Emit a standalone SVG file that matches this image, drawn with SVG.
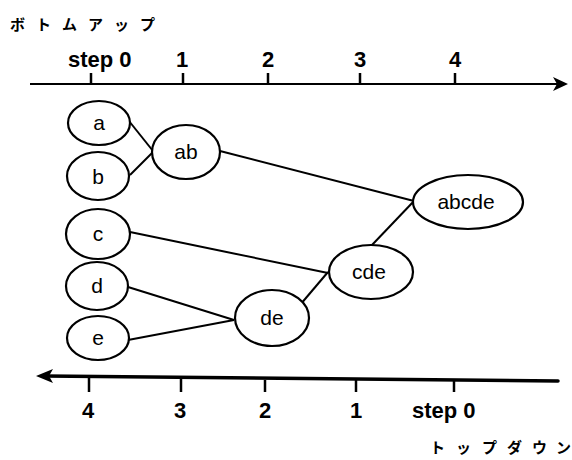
<svg xmlns="http://www.w3.org/2000/svg" width="572" height="460" viewBox="0 0 572 460">
<style>
.node ellipse{fill:#fff;stroke:#000;stroke-width:2.2}
.node text{font-family:"Liberation Sans",Arial,sans-serif;font-size:21px;text-anchor:middle;fill:#000}
.lbl{font-family:"Liberation Sans",Arial,sans-serif;font-size:22px;font-weight:bold;fill:#000}
.jp{font-family:"Noto Sans CJK JP",sans-serif;font-size:15px;font-weight:bold;fill:#000}
#connectors line{stroke:#000;stroke-width:2}
.tick{stroke:#000;stroke-width:2.5}
</style>
<rect width="572" height="460" fill="#fff"/>
<text class="jp" x="10 36 62 88 114 140" y="30">ボトムアップ</text>
<g id="axis-top">
<line x1="30" y1="84" x2="560" y2="84" stroke="#000" stroke-width="2"/>
<path d="M568,84 L553,77 L557,84 L553,91 Z" fill="#000"/>
<line class="tick" x1="91" y1="73" x2="91" y2="84"/>
<line class="tick" x1="183" y1="73" x2="183" y2="84"/>
<line class="tick" x1="268" y1="73" x2="268" y2="84"/>
<line class="tick" x1="360" y1="73" x2="360" y2="84"/>
<line class="tick" x1="455" y1="73" x2="455" y2="84"/>
<text class="lbl" x="68" y="67">step 0</text>
<text class="lbl" x="182" y="67" text-anchor="middle">1</text>
<text class="lbl" x="268" y="67" text-anchor="middle">2</text>
<text class="lbl" x="360" y="67" text-anchor="middle">3</text>
<text class="lbl" x="455" y="67" text-anchor="middle">4</text>
</g>
<g id="axis-bottom">
<line x1="45" y1="376" x2="558" y2="381" stroke="#000" stroke-width="3.5" stroke-linecap="round"/>
<path d="M36,376 L53,369 L49,376 L53,383 Z" fill="#000"/>
<line class="tick" x1="89" y1="378" x2="89" y2="392"/>
<line class="tick" x1="181" y1="379" x2="181" y2="392"/>
<line class="tick" x1="265" y1="380" x2="265" y2="392"/>
<line class="tick" x1="356" y1="380" x2="356" y2="392"/>
<line class="tick" x1="454" y1="381" x2="454" y2="392"/>
<text class="lbl" x="88" y="418" text-anchor="middle">4</text>
<text class="lbl" x="180" y="418" text-anchor="middle">3</text>
<text class="lbl" x="265" y="418" text-anchor="middle">2</text>
<text class="lbl" x="356" y="418" text-anchor="middle">1</text>
<text class="lbl" x="412" y="418">step 0</text>
</g>
<text class="jp" x="430 456 482 507 532 556" y="453">トップダウン</text>
<g id="connectors">
<line x1="129" y1="121" x2="153" y2="151"/>
<line x1="130" y1="175" x2="153" y2="152"/>
<line x1="220" y1="151" x2="414" y2="201"/>
<line x1="130" y1="232" x2="328" y2="273"/>
<line x1="128" y1="287" x2="234" y2="320"/>
<line x1="128" y1="340" x2="234" y2="320"/>
<line x1="300" y1="305" x2="328" y2="272"/>
<line x1="372" y1="245" x2="414" y2="201"/>
</g>
<g id="node-a" class="node"><ellipse cx="99" cy="123" rx="31" ry="22"/><text x="99" y="130">a</text></g>
<g id="node-b" class="node"><ellipse cx="98" cy="176" rx="31" ry="24"/><text x="98" y="184">b</text></g>
<g id="node-ab" class="node"><ellipse cx="186" cy="152" rx="34" ry="27"/><text x="186" y="159">ab</text></g>
<g id="node-c" class="node"><ellipse cx="98" cy="234" rx="32" ry="25"/><text x="98" y="241">c</text></g>
<g id="node-d" class="node"><ellipse cx="97" cy="286" rx="31" ry="24"/><text x="97" y="293">d</text></g>
<g id="node-e" class="node"><ellipse cx="98" cy="338" rx="31" ry="22"/><text x="98" y="345">e</text></g>
<g id="node-de" class="node"><ellipse cx="272" cy="318" rx="37" ry="28"/><text x="272" y="325">de</text></g>
<g id="node-cde" class="node"><ellipse cx="371" cy="272" rx="42" ry="27"/><text x="369" y="279">cde</text></g>
<g id="node-abcde" class="node"><ellipse cx="468" cy="202" rx="55" ry="27"/><text x="466" y="209">abcde</text></g>
</svg>
